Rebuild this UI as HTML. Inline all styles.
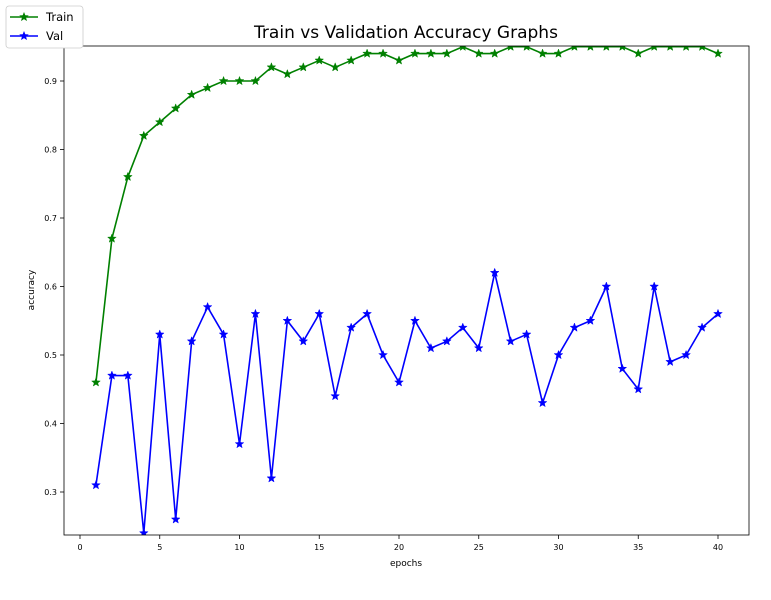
<!DOCTYPE html>
<html><head><meta charset="utf-8"><style>
body{margin:0;background:#fff;font-family:"Liberation Sans","DejaVu Sans",sans-serif;}
svg text{font-family:"DejaVu Sans","Liberation Sans",sans-serif;}
</style></head><body>
<svg id="chart" width="771" height="595" xmlns="http://www.w3.org/2000/svg"></svg>
<script>
const epochs=[1,2,3,4,5,6,7,8,9,10,11,12,13,14,15,16,17,18,19,20,21,22,23,24,25,26,27,28,29,30,31,32,33,34,35,36,37,38,39,40];
const trainAcc=[0.46,0.67,0.76,0.82,0.84,0.86,0.88,0.89,0.90,0.90,0.90,0.92,0.91,0.92,0.93,0.92,0.93,0.94,0.94,0.93,0.94,0.94,0.94,0.95,0.94,0.94,0.95,0.95,0.94,0.94,0.95,0.95,0.95,0.95,0.94,0.95,0.95,0.95,0.95,0.94];
const valAcc=[0.31,0.47,0.47,0.24,0.53,0.26,0.52,0.57,0.53,0.37,0.56,0.32,0.55,0.52,0.56,0.44,0.54,0.56,0.50,0.46,0.55,0.51,0.52,0.54,0.51,0.62,0.52,0.53,0.43,0.50,0.54,0.55,0.60,0.48,0.45,0.60,0.49,0.50,0.54,0.56];
const xTicks=[0,5,10,15,20,25,30,35,40];
const yTicks=[0.3,0.4,0.5,0.6,0.7,0.8,0.9];
const NS="http://www.w3.org/2000/svg";
const svg=document.getElementById('chart');
const L=64,R=749,T=46,B=535;
const X=v=>80+v*(718-80)/40;
const Y=v=>81+(0.9-v)*685;
function el(tag,attrs,parent){const e=document.createElementNS(NS,tag);for(const k in attrs)e.setAttribute(k,attrs[k]);(parent||svg).appendChild(e);return e;}
const clip=el('clipPath',{id:'pc'});el('rect',{x:L,y:T,width:R-L,height:B-T},clip);
const title=el('text',{x:406,y:38,'text-anchor':'middle','font-size':17});title.textContent='Train vs Validation Accuracy Graphs';


xTicks.forEach(t=>{const g=el('g',{});


el('line',{x1:X(t),x2:X(t),y1:B,y2:B+4,stroke:'#000','stroke-width':0.8},g);
const tx=el('text',{x:X(t),y:B+15,'text-anchor':'middle','font-size':8},g);tx.textContent=t;});
yTicks.forEach(t=>{const g=el('g',{});


el('line',{x1:L-4,x2:L,y1:Y(t),y2:Y(t),stroke:'#000','stroke-width':0.8},g);
const tx=el('text',{x:L-7,y:Y(t)+3,'text-anchor':'end','font-size':8},g);tx.textContent=t.toFixed(1);});
const xl=el('text',{x:406,y:566,'text-anchor':'middle','font-size':9});xl.textContent='epochs';


const yl=el('text',{x:34,y:290,'text-anchor':'middle','font-size':9,transform:'rotate(-90 34 290)'});yl.textContent='accuracy';


function star(cx,cy,r,color,parent){let p=[];for(let i=0;i<10;i++){const a=-Math.PI/2+i*Math.PI/5;const rr=i%2?r*0.42:r;p.push((cx+rr*Math.cos(a)).toFixed(2)+','+(cy+rr*Math.sin(a)).toFixed(2));}
const s=el('polygon',{points:p.join(' '),fill:color,stroke:color,'stroke-width':0.5},parent);

}
function series(vals,color,name){const g=el('g',{'clip-path':'url(#pc)'});


el('polyline',{points:vals.map((v,i)=>X(epochs[i])+','+Y(v)).join(' '),fill:'none',stroke:color,'stroke-width':1.6},g);
vals.forEach((v,i)=>star(X(epochs[i]),Y(v),4.5,color,g));}
series(trainAcc,'#008000','train-series');
series(valAcc,'#0000ff','val-series');
const frame=el('rect',{x:L,y:T,width:R-L,height:B-T,fill:'none',stroke:'#000','stroke-width':0.8});


const lg=el('g',{});


el('rect',{x:6,y:6,width:77,height:42,rx:3,fill:'#fff',stroke:'#ccc','stroke-width':0.8},lg);
[['Train','#008000',17],['Val','#0000ff',36]].forEach(([n,c,y])=>{const e=el('g',{},lg);


el('line',{x1:10,x2:38,y1:y,y2:y,stroke:c,'stroke-width':1.6},e);star(24,y,4.5,c,e);
const t=el('text',{x:46,y:y+4,'font-size':11.5},e);t.textContent=n;});
</script>
</body></html>
